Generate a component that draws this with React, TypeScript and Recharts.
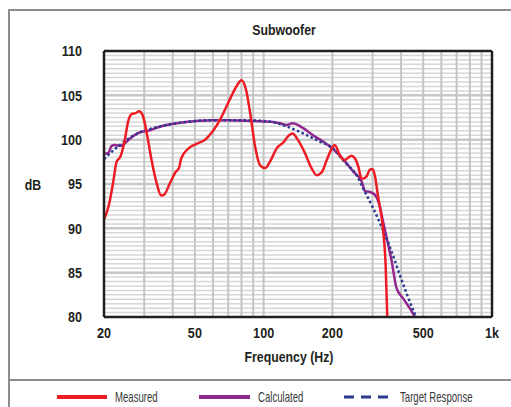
import { LineChart, Line, XAxis, YAxis, ReferenceLine } from "recharts";

// measured response (red)
const measuredFreq = [
  20, 21, 22, 22.7, 23.6, 24.5, 25.6, 26.5, 27.5, 28.5, 29.5, 30.8, 32.3, 34, 35.6, 36.7, 38.9, 41.3,
  42.6, 43.6, 46.8, 50.6, 55.4, 60.1, 64.3, 71.3, 76, 80, 83.8, 87.3, 91.8, 96.5, 101.5, 106.5, 114,
  123, 127, 134, 141, 151, 162, 170.6, 179.5, 189, 198.8, 205, 215, 226, 242, 251, 259.5, 268.6,
  280.8, 292, 300, 306.6, 317, 333.6, 342, 348,
];
const measuredDb = [
  91.0, 92.6, 95.4, 97.5, 98.1, 99.6, 102.2, 102.9, 103.0, 103.2, 102.8, 100.7, 97.7, 95.1, 93.7, 93.8,
  95.1, 96.4, 96.8, 97.9, 99.0, 99.5, 100.0, 101.0, 102.2, 104.6, 106.0, 106.7, 105.6, 103.0, 99.2,
  97.1, 96.8, 97.5, 99.0, 99.8, 100.3, 100.7, 100.0, 98.6, 96.8, 96.0, 96.3, 97.7, 99.0, 99.4, 98.3,
  97.7, 98.2, 97.9, 97.0, 95.6, 95.8, 96.6, 96.7, 96.0, 93.6, 89.8, 86.0, 80.0,
];

// calculated response (purple)
const calculatedFreq = [
  20, 20.9, 21.6, 22.3, 23.6, 25.2, 26.8, 29.2, 31.2, 34, 37.6, 43.1, 50.6, 60, 71, 90, 110, 119.7,
  125.9, 134, 149, 164.6, 182, 202, 226, 247, 268.6, 278, 292, 306.6, 320, 333.6, 345, 363, 382, 408,
  436, 460,
];
const calculatedDb = [
  98.4, 98.5, 99.3, 99.4, 99.3, 99.8, 100.4, 100.9, 101.0, 101.35, 101.65, 101.9, 102.1, 102.2, 102.2,
  102.1, 102.0, 101.8, 101.65, 101.85, 101.3, 100.5, 99.8, 98.9, 97.6, 96.4, 95.3, 94.2, 94.1, 93.8,
  92.8, 90.75, 89.05, 86.4, 83.25, 82.1, 81.0, 80.0,
];

// target response (blue dotted)
const targetFreq = [
  20, 22, 25.2, 28.6, 34, 43, 50, 60, 80, 100, 115, 126, 149, 175.6, 202, 226, 255, 278, 301.5, 328,
  357, 388, 422, 465,
];
const targetDb = [
  97.8, 98.8, 100.0, 100.8, 101.4, 101.9, 102.1, 102.2, 102.2, 102.1, 101.85, 101.5, 100.7, 99.8, 99.0,
  97.5, 96.0, 94.1, 92.3, 90.2, 87.9, 85.3, 82.7, 80.0,
];

const xTicks = [20, 50, 100, 200, 500, 1000];
const yTicks = [80, 85, 90, 95, 100, 105, 110];
const gridFreqs = [30, 40, 50, 60, 70, 80, 90, 100, 200, 300, 400, 500, 600, 700, 800, 900];

const minorDb: number[] = [];
for (let v = 80.5; v < 110; v += 0.5) if (v % 5 !== 0) minorDb.push(v);

const zip = (fs: number[], ds: number[]) => fs.map((f, i) => ({ f, db: ds[i] }));
const measured = zip(measuredFreq, measuredDb);
const calculated = zip(calculatedFreq, calculatedDb);
const target = zip(targetFreq, targetDb);

const FONT = "'Liberation Sans', Arial, sans-serif";
const INK = "#231f20";
const FRAME = "#8c8c8c";

// bold condensed look: squeeze the text horizontally round its anchor
function YTick(props: any) {
  const { x, y, payload } = props;
  return (
    <text
      transform={`translate(${x - 22},${y}) scale(0.84,1)`}
      textAnchor="end"
      dy="0.36em"
      fill={INK}
      fontSize={15}
      fontWeight={700}
      fontFamily={FONT}
    >
      {payload.value}
    </text>
  );
}

function XTick(props: any) {
  const { x, y, payload } = props;
  return (
    <text
      transform={`translate(${x},${y}) scale(0.84,1)`}
      textAnchor="middle"
      dy="0.71em"
      fill={INK}
      fontSize={15}
      fontWeight={700}
      fontFamily={FONT}
    >
      {payload.value === 1000 ? "1k" : payload.value}
    </text>
  );
}

const boldLabel = {
  position: "absolute" as const,
  fontFamily: FONT,
  fontWeight: 700,
  fontSize: 15,
  color: INK,
  lineHeight: "18px",
  whiteSpace: "nowrap" as const,
  textAlign: "center" as const,
  transform: "scaleX(0.82)",
};

function LegendText({ left, children }: { left: number; children: string }) {
  return (
    <span
      style={{
        position: "absolute",
        left,
        top: 388,
        fontFamily: FONT,
        fontSize: 15,
        color: "#3a3a3a",
        transform: "scaleX(0.64)",
        transformOrigin: "left center",
        whiteSpace: "nowrap",
        lineHeight: "18px",
      }}
    >
      {children}
    </span>
  );
}

export default function App() {
  return (
    <div
      style={{
        position: "absolute",
        left: 0,
        top: 0,
        width: 511,
        height: 407,
        background: "#fff",
        overflow: "hidden",
      }}
    >
      <div
        style={{
          position: "absolute",
          left: 8,
          top: 9,
          right: 0,
          bottom: 0,
          borderLeft: `2px solid ${FRAME}`,
          borderTop: `2px solid ${FRAME}`,
        }}
      />
      <div style={{ position: "absolute", left: 8, top: 379, width: 503, height: 2, background: FRAME }} />

      <div style={{ ...boldLabel, left: 234, width: 100, top: 21 }}>Subwoofer</div>
      <div style={{ ...boldLabel, left: 18, width: 30, top: 176 }}>dB</div>
      <div style={{ ...boldLabel, left: 219, width: 140, top: 348 }}>Frequency (Hz)</div>

      <LineChart
        width={511}
        height={407}
        data={measured}
        margin={{ top: 51, right: 19, bottom: 60, left: 44 }}
        style={{ position: "absolute", left: 0, top: 0 }}
      >
        <XAxis
          dataKey="f"
          type="number"
          scale="log"
          domain={[20, 1000]}
          allowDataOverflow
          ticks={xTicks}
          height={30}
          tickSize={0}
          tickMargin={10}
          tick={<XTick />}
          axisLine={{ stroke: INK, strokeWidth: 2.5 }}
          interval={0}
        />
        <YAxis
          type="number"
          domain={[80, 110]}
          ticks={yTicks}
          width={60}
          tickSize={0}
          tickMargin={0}
          tick={<YTick />}
          axisLine={{ stroke: INK, strokeWidth: 2.5 }}
          interval={0}
        />
        {minorDb.map((v) => (
          <ReferenceLine key={`m${v}`} y={v} stroke="#d6d6d6" strokeWidth={1.5} />
        ))}
        {yTicks.slice(1, -1).map((v) => (
          <ReferenceLine key={`M${v}`} y={v} stroke="#c8c8c8" strokeWidth={2.5} />
        ))}
        {gridFreqs.map((f) => (
          <ReferenceLine key={`v${f}`} x={f} stroke="#c4c4c4" strokeWidth={2} />
        ))}
        <Line
          data={calculated}
          dataKey="db"
          type="monotone"
          stroke="#92278f"
          strokeWidth={2.5}
          dot={false}
          activeDot={false}
          isAnimationActive={false}
        />
        <Line
          data={target}
          dataKey="db"
          type="monotone"
          stroke="#2b3990"
          strokeWidth={2.5}
          strokeDasharray="2.5 2.5"
          dot={false}
          activeDot={false}
          isAnimationActive={false}
        />
        <Line
          data={measured}
          dataKey="db"
          type="monotone"
          stroke="#ed1c24"
          strokeWidth={2.5}
          dot={false}
          activeDot={false}
          isAnimationActive={false}
        />
        <ReferenceLine y={110} stroke={INK} strokeWidth={2.5} />
        <ReferenceLine x={1000} stroke={INK} strokeWidth={2.5} />
      </LineChart>

      <div style={{ position: "absolute", left: 57, top: 395, width: 50, height: 4, background: "#ed1c24" }} />
      <LegendText left={115}>Measured</LegendText>
      <div style={{ position: "absolute", left: 199, top: 395, width: 51, height: 4, background: "#92278f" }} />
      <LegendText left={258}>Calculated</LegendText>
      <svg style={{ position: "absolute", left: 344, top: 392 }} width={46} height={10}>
        <line x1={0} y1={5} x2={44} y2={5} stroke="#2b3990" strokeWidth={3} strokeDasharray="10 7" />
      </svg>
      <LegendText left={400}>Target Response</LegendText>
    </div>
  );
}
